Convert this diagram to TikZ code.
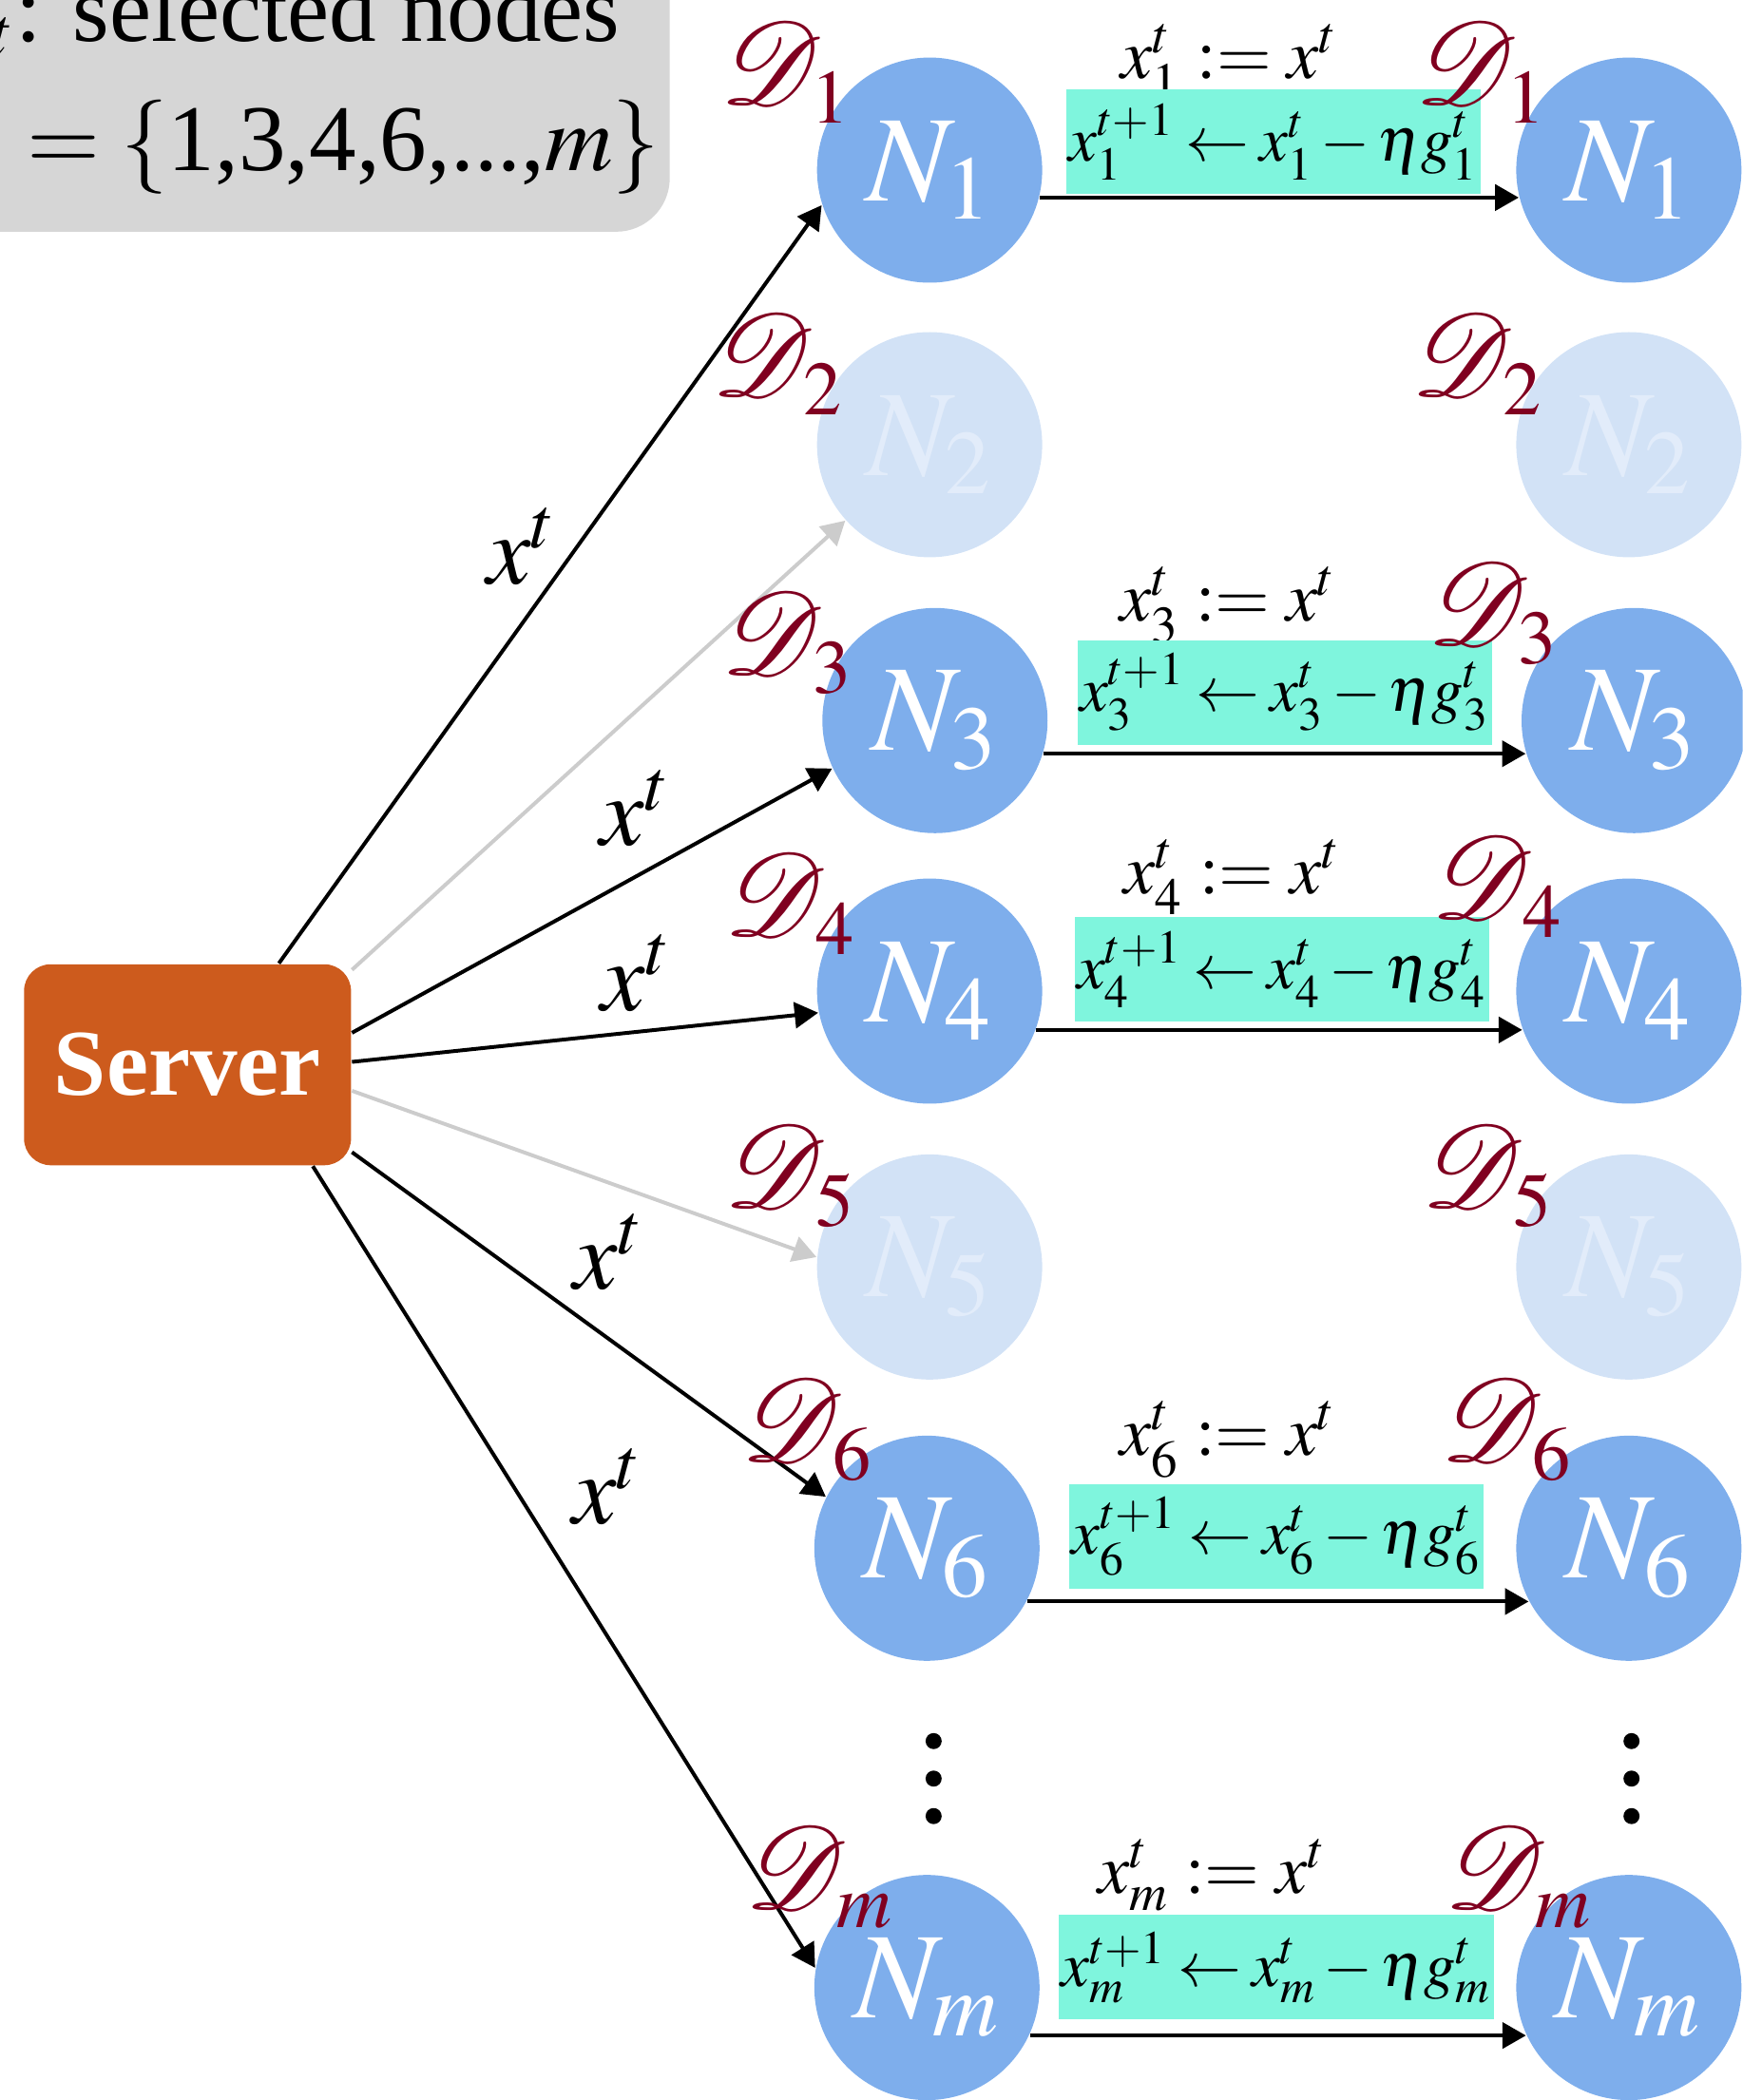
\documentclass[tikz,border=0pt]{standalone}
\usepackage{mathptmx}
\usepackage{mathrsfs}
\usepackage[no-math]{fontspec}
\setmainfont{Liberation Serif}
\usepackage{xcolor}
\usetikzlibrary{backgrounds, arrows.meta, positioning}

\definecolor{nodeblue}{RGB}{126,174,236}
\definecolor{nodefaint}{RGB}{210,226,246}
\definecolor{nodetext}{RGB}{226,236,250}
\definecolor{updcyan}{RGB}{127,245,221}
\definecolor{dred}{RGB}{128,0,32}
\definecolor{srvorange}{RGB}{205,91,29}
\definecolor{boxgray}{RGB}{214,214,214}
\definecolor{arrowgray}{RGB}{204,204,204}

\newcommand{\dset}[1]{$\mathscr{D}_{\scriptscriptstyle #1}$}
\newcommand{\tight}{\thickmuskip=3mu\medmuskip=2mu}

\begin{document}
\begin{tikzpicture}[
            x=0.01cm, y=-0.01cm,
            every node/.style={inner sep=1pt},
            selnode/.style={circle, fill=nodeblue, text=white, minimum size=1.68cm,
                            inner sep=0pt, font=\fontsize{26}{26}\selectfont},
            offnode/.style={selnode, fill=nodefaint, text=nodetext},
            srvbox/.style={rectangle, rounded corners=0.2cm, fill=srvorange, text=white,
                           minimum width=2.44cm, minimum height=1.5cm,
                           font=\fontsize{20}{20}\selectfont\bfseries},
            dlabel/.style={text=dred, font=\fontsize{27}{27}\selectfont},
            send/.style={draw, line width=0.8pt, -{Triangle[length=5pt, width=5.5pt]}},
            sendoff/.style={send, draw=arrowgray},
            xtlabel/.style={font=\fontsize{21}{21}\selectfont},
            upd/.style={fill=updcyan, inner xsep=0.5pt, inner ysep=0pt, minimum height=0.78cm,
                        font=\fontsize{13.5}{13.5}\selectfont\tight},
            copylabel/.style={font=\fontsize{15}{15}\selectfont},
            boxtext/.style={font=\fontsize{20}{20}\selectfont}
          ]
            \useasboundingbox (0,0) rectangle (1301,1568);
            \clip (0,0) rectangle (1301,1568);

            % selected set
            \fill[boxgray, rounded corners=0.4cm] (-60,-60) rectangle (500,173);
            \node[boxtext, anchor=base east] (sel) at (467,31) {$\mathscr{S}_t$: selected nodes};
            \node[boxtext, anchor=base east] (set) at (497,127) {$\mathscr{S}_t = \{$1,3,4,6,...,$m\}$};

            % server
            \node[srvbox] (srv) at (140,795) {Server};

            % local nodes
            \node[selnode] (l1) at (694,127) {$N_1$};
            \node[offnode] (l2) at (694,332) {$N_2$};
            \node[selnode] (l3) at (698,538) {$N_3$};
            \node[selnode] (l4) at (694,740) {$N_4$};
            \node[offnode] (l5) at (694,946) {$N_5$};
            \node[selnode] (l6) at (692,1156) {$N_6$};
            \node[selnode] (lm) at (692,1484) {$N_m$};

            \node[selnode] (r1) at (1216,127) {$N_1$};
            \node[offnode] (r2) at (1216,332) {$N_2$};
            \node[selnode] (r3) at (1220,538) {$N_3$};
            \node[selnode] (r4) at (1216,740) {$N_4$};
            \node[offnode] (r5) at (1216,946) {$N_5$};
            \node[selnode] (r6) at (1216,1156) {$N_6$};
            \node[selnode] (rm) at (1216,1484) {$N_m$};

            % broadcast
            \draw[send] (srv.48) -- node[xtlabel, pos=0.55, left=3pt] (xt1) {$x^t$} (l1.198);
            \draw[sendoff] (srv.30) -- (l2.222);
            \draw[send] (srv.11) -- node[xtlabel, pos=0.59, above=5pt] (xt3) {$x^t$} (l3.205);
            \draw[send] (srv.1) -- node[xtlabel, pos=0.61, above=3pt] (xt4) {$x^t$} (l4.191);
            \draw[sendoff] (srv.-9) -- (l5.175);
            \draw[send] (srv.-28) -- node[xtlabel, pos=0.44, above right=2pt] (xt6) {$x^t$} (l6.153);
            \draw[send] (srv.-39) -- node[xtlabel, pos=0.4, right=11pt] (xtm) {$x^t$} (lm.170);

            % local steps
            \node[copylabel] (c1) at (918,46) {$x_1^t \mathrel{:=} x^t$};
            \node[upd] (u1) at (951,106) {$x_1^{t+1} \leftarrow x_1^t - \eta g_1^t$};
            \draw[send] (l1.-14) -- (r1.194);

            \node[copylabel] (c3) at (917,452) {$x_3^t \mathrel{:=} x^t$};
            \node[upd] (u3) at (959,517) {$x_3^{t+1} \leftarrow x_3^t - \eta g_3^t$};
            \draw[send] (l3.-17) -- (r3.197);

            \node[copylabel] (c4) at (920,655) {$x_4^t \mathrel{:=} x^t$};
            \node[upd] (u4) at (957,724) {$x_4^{t+1} \leftarrow x_4^t - \eta g_4^t$};
            \draw[send] (l4.-20) -- (r4.200);

            \node[copylabel] (c6) at (917,1075) {$x_6^t \mathrel{:=} x^t$};
            \node[upd] (u6) at (953,1147) {$x_6^{t+1} \leftarrow x_6^t - \eta g_6^t$};
            \draw[send] (l6.-28) -- (r6.208);

            \node[copylabel] (cm) at (905,1400) {$x_m^t \mathrel{:=} x^t$};
            \node[upd] (um) at (953,1469) {$x_m^{t+1} \leftarrow x_m^t - \eta g_m^t$};
            \draw[send] (lm.-25) -- (rm.205);

            % datasets
            \node[dlabel] (dl1) at (587,54) {\dset{1}};
            \node[dlabel] (dl2) at (581,272) {\dset{2}};
            \node[dlabel] (dl3) at (588,480) {\dset{3}};
            \node[dlabel] (dl4) at (590,675) {\dset{4}};
            \node[dlabel] (dl5) at (590,878) {\dset{5}};
            \node[dlabel] (dl6) at (603,1068) {\dset{6}};
            \node[dlabel] (dlm) at (612,1402) {\dset{m}};

            \node[dlabel] (dr1) at (1106,54) {\dset{1}};
            \node[dlabel] (dr2) at (1103,272) {\dset{2}};
            \node[dlabel] (dr3) at (1115,458) {\dset{3}};
            \node[dlabel] (dr4) at (1118,662) {\dset{4}};
            \node[dlabel] (dr5) at (1111,878) {\dset{5}};
            \node[dlabel] (dr6) at (1125,1068) {\dset{6}};
            \node[dlabel] (drm) at (1134,1402) {\dset{m}};

            % more nodes
            \foreach \yy in {1300,1328,1356} {
              \fill (697,\yy) circle (0.06cm);
              \fill (1218,\yy) circle (0.06cm);
            }
          \end{tikzpicture}
\end{document}
